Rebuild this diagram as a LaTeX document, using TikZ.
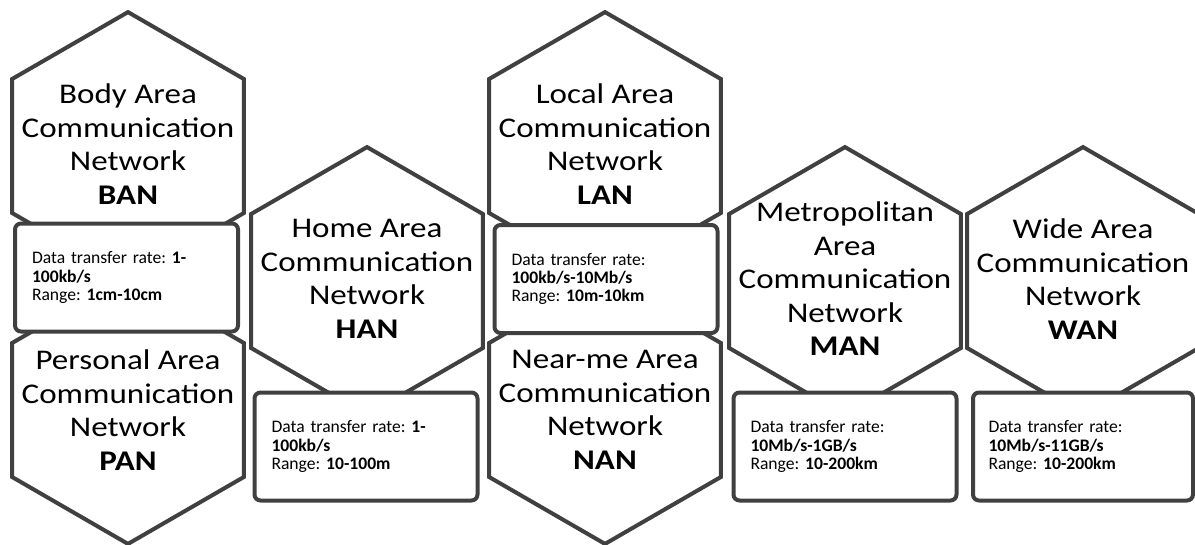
\documentclass[tikz,border=0pt]{standalone}
\usepackage{fontspec}
\setmainfont{Carlito}
\newfontfamily\titlefont{Carlito}[FakeStretch=1.16]
\definecolor{linegray}{HTML}{404040}
\tikzset{
  hexline/.style={draw=linegray, line width=4pt, fill=white, line join=miter},
  hextitle/.style={align=center, font=\titlefont\fontsize{28.5}{33.5}\selectfont, inner sep=0pt},
  infobox/.style={draw=linegray, line width=4pt, fill=white, rounded corners=6pt,
    minimum width=223pt, minimum height=108pt, inner sep=0pt, text width=189pt,
    align=left, font=\frenchspacing\fontsize{17.6}{18.2}\selectfont},
}
\def\hexR{133.9}
\newcommand{\hexagonat}[2]{%
  \draw[hexline, shift={(#1,#2)}] (90:\hexR) -- (150:\hexR) -- (210:\hexR) -- (270:\hexR) -- (330:\hexR) -- (30:\hexR) -- cycle;}
\begin{document}
\begin{tikzpicture}[x=1pt, y=-1pt]
\useasboundingbox (0,0) rectangle (1195,544);
% hexagons
\hexagonat{128}{146}
\hexagonat{128}{410}
\hexagonat{367}{281}
\hexagonat{605}{146}
\hexagonat{605}{410}
\hexagonat{845}{281}
\hexagonat{1083}{281}
% titles
\node[hextitle] (ban) at (128,144) {Body Area\\Communication\\Network\\\textbf{BAN}};
\node[hextitle] (pan) at (128,410) {Personal Area\\Communication\\Network\\\textbf{PAN}};
\node[hextitle] (han) at (367,279) {Home Area\\Communication\\Network\\\textbf{HAN}};
\node[hextitle] (lan) at (605,144) {Local Area\\Communication\\Network\\\textbf{LAN}};
\node[hextitle] (nan) at (605,410) {Near-me Area\\Communication\\Network\\\textbf{NAN}};
\node[hextitle] (man) at (845,279) {Metropolitan\\Area\\Communication\\Network\\\textbf{MAN}};
\node[hextitle] (wan) at (1083,279) {Wide Area\\Communication\\Network\\\textbf{WAN}};
% info boxes
\node[infobox] (banbox) at (126.5,277.5) {Data transfer rate: \textbf{1-}\\\textbf{100kb/s}\\Range: \textbf{1cm-10cm}};
\node[infobox] (lanbox) at (606,279) {Data transfer rate:\\\textbf{100kb/s-10Mb/s}\\Range: \textbf{10m-10km}};
\node[infobox] (hanbox) at (366,446.5) {Data transfer rate: \textbf{1-}\\\textbf{100kb/s}\\Range: \textbf{10-100m}};
\node[infobox] (manbox) at (845,446.5) {Data transfer rate:\\\textbf{10Mb/s-1GB/s}\\Range: \textbf{10-200km}};
\node[infobox, minimum width=220pt] (wanbox) at (1083,446.5) {Data transfer rate:\\\textbf{10Mb/s-11GB/s}\\Range: \textbf{10-200km}};
\end{tikzpicture}
\end{document}
